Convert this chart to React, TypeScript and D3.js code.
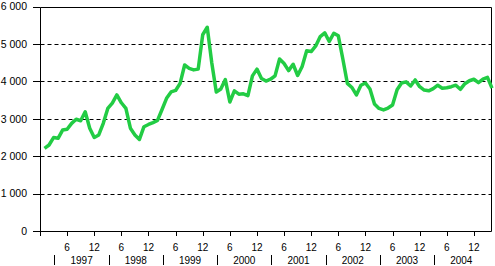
import React from "react";
import * as d3 from "d3";

// Monthly values, Jan 1997 = month 1
const values: number[] = [
  2210, 2300, 2500, 2480, 2700, 2720, 2880, 2990, 2950, 3190, 2750, 2500,
  2570, 2880, 3280, 3420, 3640, 3430, 3280, 2750, 2570, 2450, 2790, 2850,
  2900, 2960, 3250, 3550, 3720, 3760, 3950, 4440, 4350, 4310, 4330, 5250,
  5450, 4500, 3720, 3800, 4050, 3450, 3750, 3660, 3670, 3620, 4150, 4330,
  4080, 4010, 4060, 4150, 4600, 4480, 4290, 4460, 4160, 4400, 4820, 4800,
  4950, 5200, 5300, 5070, 5290, 5220, 4600, 3950, 3840, 3640, 3900, 3960,
  3800, 3400, 3280, 3240, 3290, 3370, 3780, 3960, 3990, 3880, 4040, 3860,
  3770, 3750, 3810, 3900, 3820, 3830, 3860, 3900, 3790, 3940, 4020, 4060,
  3970, 4060, 4110, 3820,
];
const monthTicks: number[] = [6, 12, 18, 24, 30, 36, 42, 48, 54, 60, 66, 72, 78, 84, 90, 96];
const monthTickLabels: string[] = monthTicks.map((m) => (m % 12 === 0 ? "12" : "6"));
const years: string[] = ["1997", "1998", "1999", "2000", "2001", "2002", "2003", "2004"];
const yTicks: number[] = [0, 1000, 2000, 3000, 4000, 5000, 6000];
const yTickLabels: string[] = ["0", "1 000", "2 000", "3 000", "4 000", "5 000", "6 000"];

const W = 495;
const H = 266;
const left = 40;
const right = 491;
const top = 6.7;
const bottom = 231;
const sepOffset = 3.2;
const font = "'Liberation Sans', Arial, sans-serif";

export default function App() {
  const x = d3.scaleLinear().domain([0, 100]).range([left, right + 1]);
  const y = d3.scaleLinear().domain([0, 6000]).range([bottom, top]);
  const crisp = (v: number) => Math.round(v) + 0.5;
  const line = d3
    .line<number>()
    .x((_, i) => x(i + 1))
    .y((d) => y(d))
    .curve(d3.curveLinear);
  const yB = crisp(y(0));
  const yT = crisp(y(6000));
  const xL = crisp(left);
  const xR = crisp(right - 0.5);
  return (
    <svg width={W} height={H} style={{ position: "absolute", left: 0, top: 0, background: "#fff" }}>
      {/* gridlines */}
      {yTicks
        .filter((t) => t !== 0 && t !== 6000)
        .map((t) => (
          <line key={"g" + t} x1={xL} x2={xR} y1={crisp(y(t))} y2={crisp(y(t))} stroke="#000" strokeDasharray="4,3" strokeWidth={1} />
        ))}
      {/* y ticks and labels */}
      {yTicks.map((t, i) => (
        <g key={"y" + t}>
          <line x1={33} x2={xL} y1={crisp(y(t))} y2={crisp(y(t))} stroke="#000" />
          <text x={27} y={y(t)} dy="0.35em" textAnchor="end" fontFamily={font} fontSize={10.5} fill="#000">
            {yTickLabels[i]}
          </text>
        </g>
      ))}
      {/* frame */}
      <line x1={xL} x2={xR} y1={yT} y2={yT} stroke="#000" />
      <line x1={xR} x2={xR} y1={yT} y2={yB} stroke="#000" />
      <line x1={xL} x2={xL} y1={yT} y2={236} stroke="#000" />
      <line x1={33} x2={xR} y1={yB} y2={yB} stroke="#000" />
      {/* x ticks */}
      {monthTicks.map((m, i) => (
        <g key={"x" + m}>
          <line x1={crisp(x(m))} x2={crisp(x(m))} y1={yB} y2={236} stroke="#000" />
          <text x={x(m)} y={251} textAnchor="middle" fontFamily={font} fontSize={10} fill="#000">
            {monthTickLabels[i]}
          </text>
        </g>
      ))}
      {/* year separators and labels */}
      {years.map((yr, k) => {
        const s = x(sepOffset + 12 * k);
        const c = x(sepOffset + 12 * k + 6);
        return (
          <g key={yr}>
            <line x1={crisp(s)} x2={crisp(s)} y1={255} y2={265} stroke="#000" />
            <text x={c} y={264} textAnchor="middle" fontFamily={font} fontSize={10} fill="#000">
              {yr}
            </text>
          </g>
        );
      })}
      {/* data line */}
      <path d={line(values) || ""} fill="none" stroke="#22cc44" strokeWidth={3.5} strokeLinejoin="round" />
    </svg>
  );
}
